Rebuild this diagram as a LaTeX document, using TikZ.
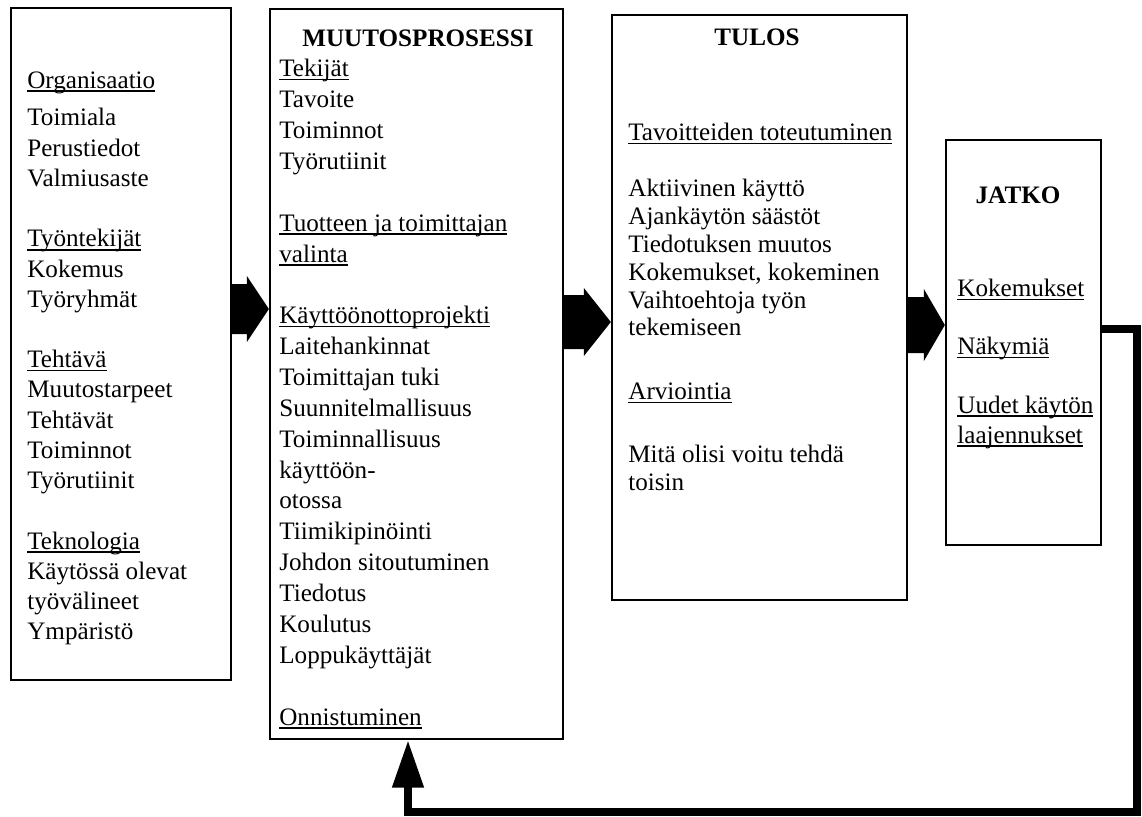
\documentclass[tikz,border=0pt]{standalone}
\usepackage{fontspec}
\setmainfont{Liberation Serif}
\usetikzlibrary{arrows.meta,calc,fit}
% underlined heading with a rule that crosses the descenders
\newcommand\hd[1]{\setbox0=\hbox{#1}\rlap{\rule[-2.1pt]{\wd0}{0.9pt}}\box0}
\begin{document}
\begin{tikzpicture}[x=0.02cm,y=-0.02cm,
  box/.style={draw=black, line width=1.3pt, inner sep=0pt},
  body/.style={anchor=north west, align=left, inner sep=0pt},
  title/.style={inner sep=0pt, font=\fontsize{14.3pt}{16.4pt}\selectfont\bfseries},
  blockarrow/.style={fill=black},
  feedback/.style={line width=4.5pt, line join=miter,
    -{Triangle[width=17pt,length=27pt]}}]
\useasboundingbox (0,0) rectangle (1142,816);

% the four boxes
\node[box, fit={(11,8) (231,680)}] (b1) {};
\node[box, fit={(270,9) (563,739)}] (b2) {};
\node[box, fit={(612,15) (907,600)}] (b3) {};
\node[box, fit={(946,140) (1101,545)}] (b4) {};

% titles
\node[title] (h2) at (418,38) {MUUTOSPROSESSI};
\node[title] (h3) at (757,37) {TULOS};
\node[title] (h4) at (1018,195) {JATKO};

% box contents
\node[body, font=\fontsize{14.3pt}{17.2pt}\selectfont] (t1) at (27,71)
{\hd{Organisaatio}\\[4.4pt]
Toimiala\\ Perustiedot\\ Valmiusaste\\[17.2pt]
\hd{Työntekijät}\\ Kokemus\\ Työryhmät\\[17.2pt]
\hd{Tehtävä}\\ Muutostarpeet\\ Tehtävät\\ Toiminnot\\ Työrutiinit\\[17.2pt]
\hd{Teknologia}\\ Käytössä olevat\\ työvälineet\\ Ympäristö};

\node[body, font=\fontsize{14.3pt}{17.57pt}\selectfont] (t2) at (279,59)
{\hd{Tekijät}\\ Tavoite\\ Toiminnot\\ Työrutiinit\\[17.57pt]
\hd{Tuotteen ja toimittajan}\\ \hd{valinta}\\[17.57pt]
\hd{Käyttöönottoprojekti}\\ Laitehankinnat\\ Toimittajan tuki\\ Suunnitelmallisuus\\
Toiminnallisuus\\ käyttöön-\\ otossa\\ Tiimikipinöinti\\ Johdon sitoutuminen\\
Tiedotus\\ Koulutus\\ Loppukäyttäjät\\[17.57pt]
\hd{Onnistuminen}};

\node[body, font=\fontsize{14.3pt}{15.87pt}\selectfont] (t3) at (628,123)
{\hd{Tavoitteiden toteutuminen}\\[15.87pt]
Aktiivinen käyttö\\ Ajankäytön säästöt\\ Tiedotuksen muutos\\
Kokemukset, kokeminen\\ Vaihtoehtoja työn\\ tekemiseen\\[20.4pt]
\hd{Arviointia}\\[19.8pt]
Mitä olisi voitu tehdä\\ toisin};

\node[body, font=\fontsize{14.3pt}{17pt}\selectfont] (t4) at (957,279)
{\hd{Kokemukset}\\[15.9pt]
\hd{Näkymiä}\\[16.4pt]
\hd{Uudet käytön}\\ \hd{laajennukset}};

% block arrows between the boxes
\coordinate (a1s) at (b1.east |- 0,309);
\coordinate (a1t) at (b2.west |- 0,309);
\fill[blockarrow] ($(a1s)+(0,-25)$) -- ($(a1t)+(-22,-25)$) -- ($(a1t)+(-22,-33)$)
  -- (a1t) -- ($(a1t)+(-22,33)$) -- ($(a1t)+(-22,25)$) -- ($(a1s)+(0,25)$) -- cycle;

\coordinate (a2s) at (b2.east |- 0,322);
\coordinate (a2t) at (b3.west |- 0,322);
\fill[blockarrow] ($(a2s)+(0,-27)$) -- ($(a2t)+(-27,-27)$) -- ($(a2t)+(-27,-34)$)
  -- (a2t) -- ($(a2t)+(-27,34)$) -- ($(a2t)+(-27,27)$) -- ($(a2s)+(0,27)$) -- cycle;

\coordinate (a3s) at (b3.east |- 0,325);
\coordinate (a3t) at (b4.west |- 0,325);
\fill[blockarrow] ($(a3s)+(0,-28)$) -- ($(a3t)+(-21,-28)$) -- ($(a3t)+(-21,-36)$)
  -- (a3t) -- ($(a3t)+(-21,36)$) -- ($(a3t)+(-21,28)$) -- ($(a3s)+(0,28)$) -- cycle;

% feedback loop back to the change process
\coordinate (c1) at (1137,329);
\coordinate (c2) at (1137,812);
\coordinate (c3) at (408,812);
\draw[feedback] (b4.east |- c1) -- (c1) -- (c2) -- (c3) -- (b2.south -| c3);
\end{tikzpicture}
\end{document}
